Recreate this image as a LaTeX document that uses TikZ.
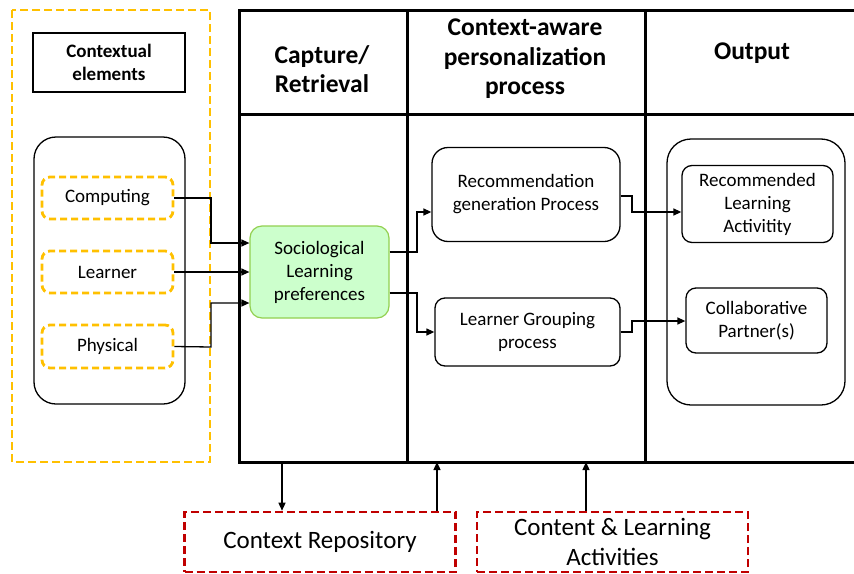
\documentclass[tikz,border=0pt]{standalone}
\usepackage{fontspec}
\setmainfont{Carlito}
\usetikzlibrary{arrows.meta}
\definecolor{orng}{HTML}{FFC000}
\definecolor{rd}{HTML}{C00000}
\definecolor{grfill}{HTML}{CCFFCC}
\definecolor{grline}{HTML}{92D050}
\tikzset{
  box/.style={draw, line width=1.3pt, rounded corners=10pt, inner sep=0pt, align=center,
    font=\fontsize{19}{23}\selectfont},
  ctxbox/.style={draw=orng, line width=2.8pt, dash pattern=on 7pt off 4pt, rounded corners=8pt,
    inner sep=0pt, align=center, font=\fontsize{19}{23}\selectfont},
  repobox/.style={draw=rd, line width=2.6pt, dash pattern=on 8pt off 4pt, inner sep=0pt,
    align=center, font=\fontsize{25}{30}\selectfont},
  head/.style={align=center, font=\bfseries\fontsize{25.5}{29.5}\selectfont},
  conn/.style={line width=1.3pt, -{Triangle[length=8pt,width=7pt]}},
  frame/.style={line width=3pt}
}
\begin{document}
\begin{tikzpicture}[x=1pt,y=-1pt]
\useasboundingbox (0,0) rectangle (854,573);
% left orange frame
\draw[draw=orng, line width=2.8pt, dash pattern=on 8pt off 4pt] (12,10) rectangle (210,462);
\node[draw, line width=2.5pt, minimum width=152pt, minimum height=59pt, inner sep=0pt, align=center,
  font=\bfseries\fontsize{19}{23}\selectfont] (ce) at (109,62.5) {Contextual\\elements};
\node[box, rounded corners=22pt, minimum width=151pt, minimum height=267pt] (grp) at (109.5,270.5) {};
\node[ctxbox, minimum width=131pt, minimum height=42pt] (comp) at (107.5,198) {Computing};
\node[ctxbox, minimum width=131pt, minimum height=42pt] (lear) at (107.5,272) {Learner};
\node[ctxbox, minimum width=131pt, minimum height=43pt] (phys) at (107.5,346.5) {Physical};
% main frame
\draw[frame] (856,10) -- (239,10) -- (239,462) -- (856,462);
\draw[frame] (239,114) -- (856,114);
\draw[frame] (407,10) -- (407,462);
\draw[frame] (645,10) -- (645,462);
\node[head] (h1) at (322,69) {Capture/\\Retrieval};
\node[head] (h2) at (525,59) {Context-aware\\personalization\\process};
\node[head] (h3) at (752,53) {Output};
% green
\node[draw=grline, fill=grfill, line width=1.2pt, rounded corners=12pt, inner sep=0pt, align=center,
  minimum width=139pt, minimum height=92pt, font=\fontsize{19}{23}\selectfont] (soc) at (319.5,272) {Sociological\\Learning\\preferences};
% process boxes
\node[box, rounded corners=16pt, minimum width=188pt, minimum height=94pt] (rec) at (526,194.5) {Recommendation\\generation Process};
\node[box, minimum width=185pt, minimum height=68pt] (lgp) at (527.5,332) {Learner Grouping\\process};
% output
\node[box, rounded corners=24pt, minimum width=178pt, minimum height=266pt] (out) at (756,272) {};
\node[box, minimum width=151pt, minimum height=77pt] (rla) at (757.5,204) {Recommended\\Learning\\Activitity};
\node[box, minimum width=141pt, minimum height=65pt] (cp) at (756.5,320.5) {Collaborative\\Partner(s)};
% bottom
\node[repobox, minimum width=271pt, minimum height=60pt] (repo) at (320,542) {Context Repository};
\node[repobox, minimum width=271pt, minimum height=60pt] (cont) at (612.5,542) {Content \& Learning\\Activities};
% connectors left
\draw[conn] (comp.east) -- (211,198) |- (soc.west |- 0,243);
\draw[conn] (lear.east) -- (soc.west |- 0,272);
\draw[conn] (phys.east) -- (211,347) |- (soc.west |- 0,303);
% green to process
\draw[conn] (soc.east |- 0,252) -- (417,252) |- (rec.west |- 0,212);
\draw[conn] (soc.east |- 0,293) -- (417,293) |- (lgp.west |- 0,332);
% process to output
\draw[conn] (rec.east |- 0,196) -- (632,196) |- (rla.west |- 0,212);
\draw[conn] (lgp.east |- 0,332) -- (632,332) |- (cp.west |- 0,321);
% bottom arrows
\coordinate (b1) at (282,462);
\coordinate (b2) at (437,462);
\coordinate (b3) at (586,462);
\draw[conn] (b1) -- (repo.north -| b1);
\draw[conn] (repo.north -| b2) -- (b2);
\draw[conn] (cont.north -| b3) -- (b3);
\end{tikzpicture}
\end{document}
